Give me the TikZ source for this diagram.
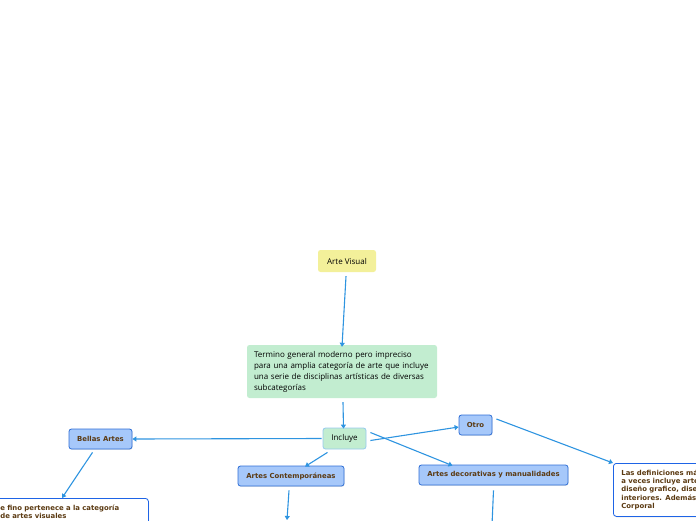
\documentclass[tikz,border=0pt]{standalone}
\usepackage{fontspec}
\setmainfont{Open Sans}
\newfontfamily\boxfont{DejaVu Sans}
\usetikzlibrary{arrows.meta,shadows}
\definecolor{ideayellow}{HTML}{F3F09A}
\definecolor{ideagreen}{HTML}{C2EDD0}
\definecolor{linkblue}{HTML}{2E94E0}
\definecolor{topicblue}{HTML}{A6C8FA}
\definecolor{topicedge}{HTML}{2F6FD6}
\definecolor{noteedge}{HTML}{1E64E6}
\definecolor{topicbrown}{HTML}{5B3A12}

\begin{document}
\begin{tikzpicture}[x=1pt,y=-1pt,
 every node/.style={font=\fontsize{8}{11}\selectfont,text=black},
 link/.style={draw=linkblue,line width=1.1pt,-{Triangle[width=5pt,length=4pt]}},
 mainbox/.style={rounded corners=2.5pt,inner sep=0pt},
 topic/.style={draw=topicedge,fill=topicblue,line width=0.8pt,rounded corners=2.5pt,
  inner sep=0pt,text=topicbrown,font=\boxfont\bfseries\fontsize{6.9}{8}\selectfont,
  drop shadow={shadow xshift=0.6pt,shadow yshift=-0.8pt,opacity=0.2}},
 note/.style={draw=noteedge,fill=white,line width=0.8pt,rounded corners=3pt,
  inner xsep=8pt,inner ysep=3.5pt,align=left,anchor=north west,text=topicbrown,
  font=\boxfont\bfseries\fontsize{6.9}{8.3}\selectfont,
  drop shadow={shadow xshift=0.6pt,shadow yshift=-1pt,opacity=0.25}}]
 \useasboundingbox (0,0) rectangle (696,520);
 \clip (0,0) rectangle (696,520);

 \node[mainbox,fill=ideayellow,minimum width=58pt,minimum height=22pt] (arte) at (347,261) {Arte Visual};
 \node[mainbox,fill=ideagreen,minimum width=190pt,minimum height=53pt,text width=176pt,align=left] (termino) at (342,371.5)
  {Termino general moderno pero impreciso\\para una amplia categoría de arte que incluye\\una serie de disciplinas artísticas de diversas\\subcategorías};
 \node[mainbox,fill=ideagreen,draw=linkblue!50,line width=0.8pt,minimum width=43pt,minimum height=21pt] (incluye) at (344.5,438.5) {Incluye};

 \node[topic,minimum width=63pt,minimum height=20pt] (bellas) at (100.5,439) {Bellas Artes};
 \node[topic,minimum width=106pt,minimum height=20pt] (contemp) at (291,476) {Artes Contemporáneas};
 \node[topic,minimum width=33pt,minimum height=20pt] (otro) at (475.5,425) {Otro};
 \node[topic,minimum width=149pt,minimum height=20pt] (decor) at (493.5,475) {Artes decorativas y manualidades};

 \node[note,text width=140pt,text depth=20pt,inner ysep=6.5pt] (fino) at (-8,498) {e fino pertenece a la categoría\\de artes visuales};
 \node[note,text width=110pt,minimum height=53pt] (defin) at (613,463)
  {Las definiciones más\\a veces incluye arte,\\diseño grafico, diseño\\interiores. Además,\\Corporal};

 \coordinate (contempEnd) at (287,520);
 \coordinate (decorEnd) at (492,525);

 % connectors
 \draw[link] ([xshift=-1pt,yshift=-4pt]arte.south) -- ([yshift=-2pt]termino.north);
 \draw[link] ([xshift=1pt,yshift=-4pt]termino.south) -- ([xshift=-1pt,yshift=-1pt]incluye.north);
 \draw[link] ([xshift=-1pt]incluye.west) -- (bellas.east);
 \draw[link] ([xshift=-8pt,yshift=-3pt]bellas.south) -- ([xshift=70pt]fino.north west);
 \draw[link] ([xshift=-17pt,yshift=-3pt]incluye.south) -- ([xshift=14pt,yshift=-1pt]contemp.north);
 \draw[link] ([xshift=-2pt,yshift=-4pt]contemp.south) -- (contempEnd);
 \draw[link] ([xshift=4pt,yshift=-2pt]incluye.east) -- ([yshift=-2pt]otro.west);
 \draw[link] ([xshift=4pt,yshift=6pt]incluye.east) -- ([xshift=-41pt,yshift=-1pt]decor.north);
 \draw[draw=linkblue,line width=1.1pt] ([yshift=-5pt]decor.south) -- (decorEnd);
 \draw[link] ([xshift=4pt,yshift=6pt]otro.east) -- (defin.north west);
\end{tikzpicture}
\end{document}
